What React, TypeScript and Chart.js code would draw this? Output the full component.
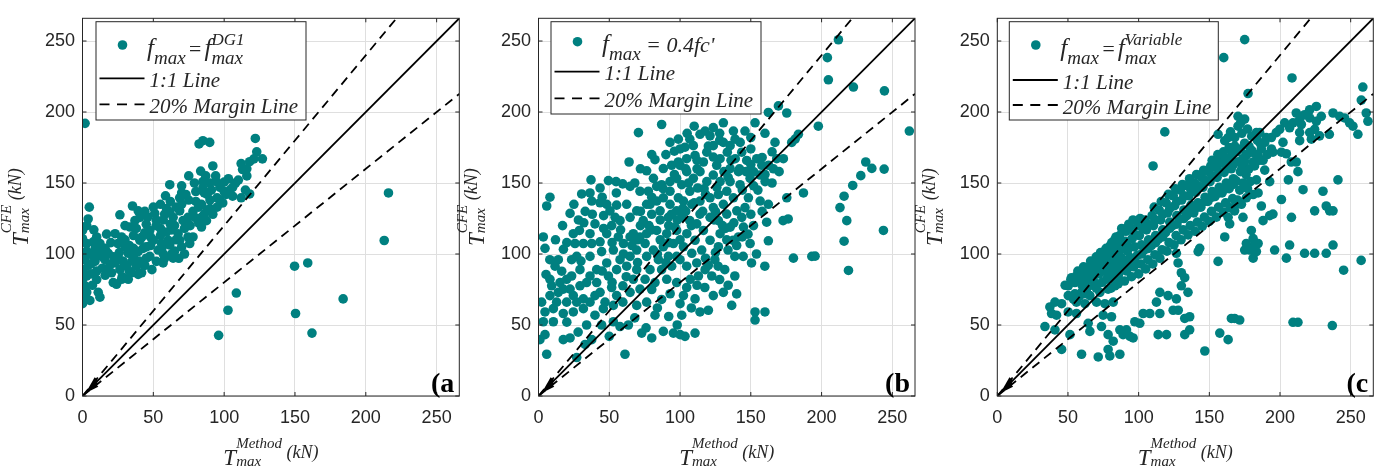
import React, { useEffect, useRef } from 'react';
import { Chart, registerables } from 'chart.js';

Chart.register(...registerables);

// ---------- data ----------
const AXIS_MAX = 266;
const tickValues = [0, 50, 100, 150, 200, 250];
const oneToOneSlope = 1;
const upperMarginSlope = 1.2;
const lowerMarginSlope = 0.8;
const legendLineLabel = '1:1 Line';
const legendMarginLabel = '20% Margin Line';

const panelAPoints: [number, number][] = [
  [1.8, 192], [82.3, 177.5], [85, 179.8], [89.8, 178.6], [122, 181.4], [121, 167], [127, 167], [112, 163.7], [113, 159.5],
  [92, 162], [83.4, 158.4], [85, 151], [85, 146.5], [86, 143], [75, 155], [94.5, 151], [100, 150.6], [96.8, 138.4],
  [101.5, 142], [106, 140.7], [112, 139.6], [118, 142.3], [61.6, 148.8], [58.6, 141], [70, 143], [73, 141.9], [68.6, 139.6],
  [4.8, 133], [4, 124.7], [26.4, 127.6], [35.3, 133.8], [39.3, 130.4], [40.5, 125.8], [51, 128.6], [59.3, 132], [61.6, 129.2],
  [64, 125.8], [68.6, 130.4], [71, 123.5], [74.5, 125.8], [79.2, 125.8], [84, 125.8], [87.5, 123.5], [92, 128], [45, 121],
  [47.5, 116.6], [37, 123.5], [33.5, 119], [23, 114.3], [27.6, 112], [25, 107.4], [0, 116.6], [59.3, 115.5], [60.4, 109.7],
  [61.6, 106.3], [67.5, 114.3], [68.6, 109.7], [74.5, 112], [75.7, 107.4], [50, 109.7], [53.4, 102.8], [55.8, 107.4],
  [40.5, 109.7], [42.8, 104], [39.3, 101.7], [0, 110.9], [2.9, 107.4], [7.6, 108.6], [12.3, 107.4], [14.7, 102.8], [18.2, 100.5],
  [15.8, 96], [30, 105], [32.3, 100.5], [28.8, 94.8], [31, 91.4], [35.8, 98.3], [38.1, 91.4], [41.7, 86.8], [47.5, 98.3],
  [52.2, 94.8], [56.9, 93.7], [64, 97.1], [1.8, 96], [0.6, 89], [2.9, 84.5], [1.8, 77.6], [0.5, 70.7], [2.9, 68.4], [5.2, 67.3],
  [0, 65], [11.1, 73], [12.3, 69.6], [20.5, 86.8], [21.7, 79.9], [24, 78.7], [27.6, 82.2], [32.3, 82.2], [34.6, 86.8],
  [39.3, 85.6], [23, 93.7], [26.4, 89], [13.5, 98.3], [8.8, 94.8], [149.7, 91.4], [159, 93.7], [108.6, 72.5], [102.7, 60.4],
  [96.1, 42.7], [150.4, 58.1], [162, 44.3], [184, 68.4], [216, 143], [213, 109.5],
  [78, 130], [82, 133], [88, 131], [95, 133], [99, 136], [90, 138], [80, 137], [76, 120], [84, 119], [72, 118], [65, 120],
  [63, 117], [55, 113], [48, 112], [44, 115], [36, 113], [30, 110], [20, 108], [9, 104], [5, 100], [4, 92], [6, 86], [10, 82],
  [16, 85], [18, 90], [22, 98], [26, 101], [35, 95], [44, 92], [49, 89], [33, 88], [28, 84], [45, 105], [57, 100], [65, 102],
  [70, 105], [52, 120], [57, 124], [46, 126], [30, 120], [17, 114], [10, 112], [8, 117], [3, 120], [0, 100], [0, 82], [0, 76],
  [3, 73], [7, 78], [104, 145], [108, 150], [97, 147], [91, 145], [103, 153], [115, 145], [87, 155], [79, 150], [70, 148],
  [62, 137], [55, 135], [50, 133], [66, 133], [44, 130],
  [38, 118], [42, 112], [55, 118], [62, 121], [66, 110], [72, 100], [78, 112], [82, 122], [86, 128], [90, 132], [95, 139.5],
  [100, 144], [106, 147], [110, 152], [116, 155], [70, 135], [75, 138], [58, 128], [52, 124], [48, 106], [36, 104], [26, 96],
  [20, 93], [14, 90], [10, 88], [6, 93], [3, 102], [8, 98], [12, 100], [16, 104], [45, 97], [40, 95], [33, 106], [56, 104],
  [63, 100], [68, 97], [58, 97], [84, 135], [88, 142], [80, 144], [94, 155], [90, 150], [118, 165], [123, 172], [116, 160],
];

const panelBPoints: [number, number][] = [
  [87, 191.2], [70.6, 185.5], [96, 172.4], [82.3, 166.4], [64, 164.8], [76.4, 158.6], [88.2, 160.2], [37.1, 152.2], [49.4, 151.7],
  [54.8, 151], [59.5, 149.4], [64.7, 147.6], [30.5, 142.3], [36.4, 143], [43.5, 146.5], [37.6, 137.3], [43.5, 136.1], [8.1, 140],
  [5.8, 133.8], [22.3, 128.6], [28.2, 124], [28.9, 116.6], [48.2, 135], [50.5, 130.4], [54.1, 125.8], [51.7, 120], [57.6, 123.5],
  [62.3, 135], [64.7, 125.8], [69.4, 130.4], [77.6, 144.2], [83.5, 147.6], [88.2, 139.6], [92.9, 144.2], [97.6, 153.3],
  [74, 123.5], [80, 128], [85.9, 130.4], [91.8, 125.8], [97.6, 130.4], [76.4, 114.3], [83.5, 116.6], [90.6, 114.3], [96.5, 118.9],
  [75.3, 107.4], [81.2, 102.8], [88.2, 105.1], [95.3, 107.4], [76.4, 98.3], [84.7, 96], [91.8, 98.3], [97.6, 98.3], [78.8, 89],
  [87, 89], [94.1, 91.4], [75.3, 82.2], [82.3, 79.9], [90.6, 82.2], [97.6, 79.9], [69.4, 89], [62.3, 91.4], [55.2, 89], [49.4, 84.5],
  [64.7, 98.3], [57.6, 96], [48.2, 93.7], [41.1, 89], [36.4, 84.5], [60, 107.4], [52.9, 102.8], [44.6, 101.7], [67, 114.3],
  [3.4, 112], [4.6, 104], [17.6, 103.3], [23.4, 96], [25.8, 107.4], [24.6, 114.3], [37.6, 107.4], [43.5, 108.6], [5.3, 85.6],
  [11.7, 91.4], [16.4, 87.9], [19.9, 82.2], [23.4, 84.5], [9.3, 77.6], [14, 73], [17.5, 75.3], [24.6, 70.7], [29.3, 77.6], [34, 79.9],
  [2.2, 66.1], [4.6, 59.2], [3.4, 52.3], [10.5, 52.3], [17.5, 58.1], [24.6, 59.2], [27, 66.1], [31.7, 68.4], [39.9, 70.7],
  [39.9, 56.9], [47, 66.1], [55.2, 70.7], [64.7, 73], [71.7, 75.3], [76.4, 66.1], [82.3, 56.9], [1, 39.7], [4.6, 43.2], [5.8, 29.4],
  [17.5, 39.7], [22.3, 40.9], [27, 27.1], [32.9, 36.3], [37.6, 39.7], [44.6, 50], [52.9, 52.3], [57.6, 48.9], [61.1, 29.4],
  [63.5, 50], [72.9, 44.3], [80, 40.9], [88.2, 45.5], [95.3, 44.3],
  [81.2, 153.3], [87, 148.8], [92.9, 151], [78.8, 135], [83.5, 137.3], [92.9, 135], [98.8, 139.6], [97.6, 116.6], [98.8, 164.8],
  [94.1, 162.5], [98.8, 180.9], [92.9, 178.6],
  [8.1, 70.7], [19.9, 66.1], [12.8, 66.1], [36.4, 66.1], [43.5, 73], [51.7, 76.4], [59.6, 77.6], [67, 82.2], [45.8, 61.5],
  [52.9, 63.8], [59.6, 66.1], [69.4, 63.8], [31.7, 61.5], [10.5, 61.5], [29.3, 89], [27, 98.3], [36.4, 98.3], [41.1, 79.9],
  [22.3, 75.3], [15.2, 79.9], [8.1, 82.2],
  [39.9, 121.2], [48.2, 114.3], [56.4, 112], [64.7, 112], [71.7, 112], [69.4, 102.8], [36.4, 114.3], [31.7, 107.4], [55.2, 134.4],
  [71.7, 144.2], [76.4, 135],
  [169.5, 204.3], [175.4, 199.3], [162.4, 199.7], [183.6, 184.3], [181.3, 180.9], [178.9, 178.6], [167.1, 178.6], [153, 192.4],
  [145.9, 186.6], [137.7, 186.6], [130.6, 192.4], [123.5, 189], [117.7, 186.6], [138.9, 180.9], [142.5, 178.6], [130.6, 178.6],
  [123.5, 176.3], [118.9, 171.7], [123.5, 168.3], [125.9, 162.5], [116.5, 164.8], [109.4, 176.3], [103.5, 175.2], [168.3, 167.1],
  [173, 167.1], [154.2, 167.1], [157.8, 162.5], [162.5, 162.5], [152.1, 157.9], [156.6, 155.6], [160.1, 151], [149.5, 153.3],
  [142.4, 148.8], [135.4, 151], [175.4, 139.6], [187.2, 143], [162.4, 135], [156.6, 137.3], [161.2, 122.4], [151.9, 120],
  [149.5, 107.4], [144.8, 118.9], [141.3, 112], [162.4, 109.3], [172.8, 123.5], [176.4, 124.7], [180.1, 97.1], [193.1, 98.3],
  [159.9, 91.4], [150.5, 93.7], [144.6, 98.3], [138.7, 98.3], [138.7, 84.5], [131.6, 89], [126.9, 91.4], [124.6, 96], [133.9, 102.8],
  [137.5, 109.7], [128.3, 114.3], [121.2, 109.7], [116.5, 116.6], [111.8, 121.2], [117.5, 76.4], [123.5, 70.7], [130.6, 73],
  [140, 71.9], [110.6, 68.4], [104.7, 76.4], [102.4, 70.7], [136.5, 63.8], [120, 60.4], [114.1, 59.2], [101.2, 56.9], [153, 59.2],
  [153, 53.5], [160, 59.2], [103.5, 42], [110.6, 44.3], [100, 43.2],
  [100, 162.5], [104.7, 158], [109.4, 153.3], [114.1, 158], [101.2, 148.8], [106.9, 144.2], [112.5, 146.5], [118.9, 151],
  [123.5, 155.6], [128.3, 151], [102.4, 137.3], [108.3, 135], [114.1, 137.3], [121.2, 139.6], [127.1, 141.9], [133, 144.2],
  [137.7, 139.6], [130.6, 135], [123.5, 132.7], [101.2, 125.8], [106.9, 123.5], [114.1, 128.1], [121.2, 125.8], [127.1, 123.5],
  [133, 128.1], [140.1, 130.4], [145.9, 132.7], [148.3, 139.6], [143.6, 125.8], [135.4, 118.9], [104.8, 114.3], [110.6, 109.7],
  [102.4, 105.1], [108.3, 100.5], [115.3, 102.8], [127.1, 105.1], [100, 96], [104.7, 91.4], [111.8, 93.7], [117.7, 89],
  [122.4, 84.5], [113, 84.5], [107.2, 82.2], [128.3, 167.1], [133.4, 171.7], [110.6, 169.4], [104.7, 167.1], [100, 174],
  [114.1, 184.3], [106.9, 180.9], [121.2, 183.2], [135.4, 176.3], [143.6, 171.7], [150, 174], [147.1, 165.9], [139, 167.1],
  [135.4, 160.2], [141.3, 158], [146.6, 158],
  [45, 140], [55, 143], [68, 150], [72, 160], [80, 170], [90, 170], [105, 185], [110, 190], [58, 117], [46, 127], [33, 130],
  [25, 135], [17, 120], [12, 110], [8, 96], [30, 95], [45, 88], [52, 80], [62, 84], [70, 94], [80, 75], [87, 68], [93, 72],
  [100, 65], [108, 62], [112, 78], [118, 97], [125, 101], [130, 120], [133, 110], [138, 122], [144, 112], [150, 128], [155, 145],
  [158, 130], [165, 150], [170, 158], [165, 172], [160, 185], [150, 182], [128, 185], [112, 160], [117, 146], [125, 130],
  [131, 158], [104, 130], [98, 124], [92, 120], [86, 110], [80, 117], [72, 120], [66, 106], [60, 100], [52, 108], [46, 118],
  [38, 128], [32, 122], [20, 108], [14, 96], [34, 50], [28, 45], [20, 52], [50, 42], [68, 55], [76, 48], [84, 62], [92, 56], [98, 50],
  [70, 110], [78, 120], [86, 124], [94, 128], [102, 132], [110, 136], [118, 142], [126, 147], [134, 154], [142, 160], [150, 163],
  [158, 168], [72, 130], [80, 140], [88, 146], [96, 156], [104, 160], [112, 166], [120, 176], [128, 180], [136, 166], [144, 145],
  [152, 148], [160, 156], [166, 160], [106, 150], [116, 130], [124, 124], [132, 118], [140, 106], [148, 114], [154, 100],
  [108, 120], [100, 110], [92, 108], [84, 100], [120, 92], [128, 82], [134, 78], [90, 94],
  [211.9, 250.9], [204.1, 238.3], [204.8, 222.7], [222.5, 217.6], [244.4, 214.9], [197.7, 190], [262, 186.6], [231.2, 164.8],
  [235.5, 160.3], [227.7, 155.2], [244.2, 159.8], [222, 148.3], [215.9, 140.7], [213, 132.7], [217.8, 123.5], [243.7, 116.6],
  [215.9, 109], [219, 88.4], [195.4, 98.5],
];

const panelCPoints: [number, number][] = [
  [33.7, 48.9], [40.8, 46.6], [38.4, 58.1], [41.9, 56.9], [51.4, 43.2], [45.5, 32.8], [59.6, 29.4], [71.4, 27.5], [79.6, 28.2],
  [86.7, 29.4], [64.3, 51.2], [65.5, 45.5], [73.7, 48.9], [78.4, 43.2], [82, 38.6], [78.4, 32.8], [37.2, 62.7], [40.8, 66.1],
  [45.5, 65], [50.2, 70.7], [54.9, 71.9], [59.6, 73], [63.1, 75.3], [50.2, 77.6], [54.9, 79.9], [52.5, 83.3], [58.4, 85.6],
  [63.1, 86.8], [67.8, 82.2], [70.2, 78.7], [65.5, 70.7], [56, 66.1], [62, 65], [70.2, 66.1], [76.1, 65], [82, 66.1], [72.6, 73],
  [78.4, 75.3], [83.2, 77.6], [50.2, 59.2], [56, 58.1], [74.9, 56.9], [80.8, 55.8], [85.5, 107.4], [79.6, 104], [74.9, 98.3],
  [71.4, 93.7], [76.1, 89], [82, 91.4], [86.7, 96], [85.5, 84.5], [79.6, 85.6], [65.5, 91.4], [60.8, 89], [56, 84.5], [77.3, 82.2],
  [60, 78], [64, 82], [68, 88], [72, 86], [70, 92], [74, 90], [78, 95], [76, 102], [80, 106], [84, 103], [84, 112], [88, 118],
  [93, 121], [96, 124],
  [48, 78], [52, 82], [57, 88], [61, 91], [66, 95], [70, 98], [73, 101], [77, 104], [81, 108], [60, 82], [64, 88], [68, 85],
  [72, 90], [75, 95], [79, 98], [83, 100], [87, 103], [62, 72], [66, 78], [70, 76], [74, 80], [78, 86], [82, 88], [86, 90],
  [88, 97], [58, 70], [54, 68],
  [160.2, 238.3], [118.5, 186], [110.2, 162], [156.2, 184.3], [160.9, 179.8], [163.3, 182], [170.3, 197], [170.3, 190],
  [165.6, 54.6], [167.9, 54.6], [157.4, 44.3], [163.3, 39.7], [146.8, 31.7],
  [126.7, 100.5], [127.9, 93.7], [130.2, 86.8], [132.6, 83.3], [130.2, 77.6], [134.9, 73], [126.7, 68.4], [120.8, 70.7], [115, 73],
  [112.6, 66.1], [124.4, 60.4], [128, 60.4], [115, 58.1], [107.9, 58.1], [103.2, 58.1], [97.3, 52.3], [100.8, 51.2], [91.4, 46.6],
  [89, 43.2], [86.7, 46.6], [93.8, 42], [96.1, 40.9], [113.8, 43.2], [119.7, 43.2], [132.6, 43.2], [132.6, 54.6], [136.1, 55.8],
  [136.1, 46.6], [142.1, 101.7], [143.2, 104], [156.2, 94.8], [160.9, 112], [163.3, 125.8], [164.4, 121.2], [167.9, 130.4], [169.1, 135],
  [80.5, 76], [81, 83], [79, 89.5], [82.5, 96], [80, 101], [83, 110],
  [85.5, 79], [86, 86.5], [87.5, 93], [84.5, 100], [88, 106], [86.5, 113],
  [90, 81], [91.5, 88], [89.5, 95], [92, 102], [90.5, 109], [91, 116],
  [95, 84], [96.5, 91], [94, 97.5], [97, 105], [95.5, 111], [94.5, 118],
  [100, 86], [101.5, 93], [99, 99], [102, 106.5], [100.5, 113], [99.5, 120], [101, 125],
  [105, 89.5], [106.5, 96], [104, 103], [107, 110], [105.5, 117], [104.5, 124],
  [110, 93], [111.5, 99.5], [109, 106], [112, 113], [110.5, 120], [109.5, 127], [111, 133],
  [115, 97], [116.5, 103], [114, 110.5], [117, 117], [115.5, 124], [114.5, 131], [116, 137],
  [120, 102], [121.5, 108], [119, 115], [122, 122.5], [120.5, 129], [119.5, 136], [121, 142],
  [125, 106.5], [126.5, 113], [124, 120], [127, 127], [125.5, 134], [124.5, 141], [126, 146],
  [130, 110], [131.5, 117], [129, 124.5], [132, 131], [130.5, 138], [129.5, 145], [131, 149],
  [135, 113.5], [136.5, 120], [134, 127], [137, 134.5], [135.5, 141], [134.5, 148], [136, 153],
  [140, 116], [141.5, 122.5], [139, 129], [142, 136], [140.5, 143.5], [139.5, 150], [141, 156],
  [145, 119.5], [146.5, 126], [144, 133], [147, 140], [145.5, 147], [144.5, 154], [146, 159],
  [150, 123], [151.5, 130], [149, 137], [152, 144], [150.5, 151], [149.5, 158], [151, 162],
  [155, 126], [156.5, 133], [154, 140.5], [157, 147], [155.5, 154], [154.5, 161], [156, 165],
  [160, 129.5], [161.5, 136], [159, 143], [162, 150], [160.5, 157.5], [159.5, 164], [161, 168],
  [165, 132.5], [166.5, 139], [164, 146], [167, 153], [165.5, 160], [164.5, 167], [166, 170],
  [170, 138], [171.5, 145], [169, 151.5], [172, 158], [170.5, 165], [169.5, 172],
  [82, 88], [87, 97], [92, 106], [97, 114], [103, 118], [107, 121], [112, 124], [117, 128], [122, 132], [127, 137], [132, 141],
  [137, 145], [142, 148], [147, 152], [152, 155], [157, 158], [162, 162], [167, 163], [92, 92], [97, 95], [102, 100], [107, 104],
  [112, 108], [117, 112], [122, 118], [127, 121], [132, 125], [137, 130], [142, 133], [147, 137], [152, 140], [157, 143],
  [162, 146], [167, 149],
  [152, 166], [156, 170], [160, 172], [164, 175], [168, 176], [172, 174], [175, 178], [178, 176], [176, 170], [180, 173],
  [183, 170], [186, 178], [175, 165], [178, 160], [182, 162], [188, 166], [191, 170], [173, 185], [177, 188], [180, 183],
  [184, 180], [168, 182], [165, 186], [172, 192], [175, 195], [173, 160], [176, 156], [179, 151], [174, 150], [177, 146],
  [225.7, 203.9], [221, 201.6], [229.2, 197], [225.7, 193.5], [221, 195.8], [217.4, 198.1], [211.5, 199.3], [213.9, 194.7],
  [209.2, 192.4], [206.8, 188.9], [203.3, 192.4], [199.8, 187.8], [197.4, 185.5], [193.9, 182], [190.3, 182], [189.2, 178.6],
  [185.6, 185.5], [183.3, 185.5], [234.9, 184.3], [228, 183.2], [222.2, 180.9], [224.5, 187.8], [221, 185.5], [215.1, 191.2],
  [213.9, 185.5], [213.9, 179.8], [202.1, 178.6], [201, 171.7], [204.5, 170.6], [195, 171.7], [193.9, 174], [186.8, 174],
  [184.5, 169.4], [185.6, 166], [179.7, 171.7], [176.2, 169.4], [173.8, 167.1], [181, 164.8],
  [258.6, 217.6], [257.5, 208.4], [261, 199.3], [262.2, 193.5], [255.1, 184.3], [249.2, 192.4], [251.6, 190], [237.5, 199.3],
  [242.2, 197], [245.7, 195.8], [175, 251], [177.4, 213], [208.5, 224],
  [209.2, 51.9], [212.7, 51.9], [237, 49.6], [257.4, 95.5], [245, 88.6], [196.2, 102.8], [206.8, 106.3], [204.5, 97.1],
  [217.4, 100.5], [224.5, 100.5], [232.7, 100.5], [237.5, 106.3], [224.5, 130.4], [232.7, 133.8], [235.1, 130.4], [237.5, 130.4],
  [216.3, 145.3], [230.4, 144.2], [241, 152.2], [201, 138.4], [208.1, 125.8], [205.9, 152.2], [192.7, 151], [183.3, 152.2],
  [189.2, 159.1], [211.5, 164.8], [208, 164.8], [212.7, 158], [186.8, 133.8], [195, 128.1], [192.7, 127], [188, 123.5],
  [181, 141.9], [184.5, 143], [176.2, 139.6], [172.7, 135], [173.8, 125.8], [179.7, 116.6], [181, 110.9], [182.1, 106.3],
  [184.5, 107.4], [178.5, 102.8], [183.3, 101.7], [176.2, 107.4], [175, 102.8], [181, 97.1], [171.5, 53.5],
];

// ---------- styling helpers ----------
const TEAL = '#008080';
const INK = '#262626';
const GRID = '#dfdfdf';
const SANS = '"Liberation Sans", Arial, Helvetica, sans-serif';
const SERIF = '"Liberation Serif", "Times New Roman", Times, serif';
const W = 1382;
const H = 468;
const Y_AXIS_W = 45;
const X_AXIS_H = 40;
const POINT_R = 4.8;

type Seg = {
  t: string; size: number; dy?: number; padL?: number; padR?: number; bold?: boolean; italic?: boolean;
  sub?: string; sup?: string; subSize?: number; supSize?: number; subDy?: number; supDy?: number;
};

function serifFont(size: number, italic = true, bold = false) {
  return `${italic ? 'italic ' : ''}${bold ? 'bold ' : ''}${size}px ${SERIF}`;
}

function rich(ctx: CanvasRenderingContext2D, segs: Seg[], x: number, y: number, draw: boolean) {
  let cx = x;
  for (const s of segs) {
    cx += s.padL || 0;
    ctx.font = serifFont(s.size, s.italic !== false, !!s.bold);
    if (draw) ctx.fillText(s.t, cx, y + (s.dy || 0));
    cx += ctx.measureText(s.t).width;
    let w = 0;
    if (s.sub) {
      ctx.font = serifFont(s.subSize || s.size * 0.7);
      if (draw) ctx.fillText(s.sub, cx, y + (s.subDy || 0));
      w = Math.max(w, ctx.measureText(s.sub).width);
    }
    if (s.sup) {
      ctx.font = serifFont(s.supSize || s.size * 0.7);
      if (draw) ctx.fillText(s.sup, cx, y + (s.supDy || 0));
      w = Math.max(w, ctx.measureText(s.sup).width);
    }
    cx += w + (s.padR || 0);
  }
  return cx - x;
}

const xTitle: Seg[] = [
  { t: 'T', size: 23, sub: 'max', sup: 'Method', subSize: 15, supSize: 15, subDy: 1, supDy: -17 },
  { t: ' (kN)', size: 18, dy: -7 },
];
const yTitle: Seg[] = [
  { t: 'T', size: 23, sub: 'max', sup: 'CFE', subSize: 15, supSize: 15, subDy: 1, supDy: -17 },
  { t: ' (kN)', size: 18, dy: -7 },
];

const legendTitleA: Seg[] = [
  { t: 'f', size: 25, sub: 'max', subSize: 19, subDy: 8 },
  { t: '=', size: 22, padL: 2, padR: 2 },
  { t: 'f', size: 25, sub: 'max', sup: 'DG1', subSize: 19, supSize: 17, subDy: 8, supDy: -11 },
];
const legendTitleB: Seg[] = [
  { t: 'f', size: 25, sub: 'max', subSize: 19, subDy: 8 },
  { t: ' = 0.4fc\'', size: 22 },
];
const legendTitleC: Seg[] = [
  { t: 'f', size: 25, sub: 'max', subSize: 19, subDy: 8 },
  { t: '=', size: 22, padL: 2, padR: 2 },
  { t: 'f', size: 25, sub: 'max', sup: 'Variable', subSize: 19, supSize: 17, subDy: 8, supDy: -11 },
];

type PanelCfg = {
  points: [number, number][];
  plot: { left: number; right: number; top: number; bottom: number };
  legend: { x: number; y: number; w: number; h: number; markerDy: number; titleDy: number; lineDy: number; dashDy: number };
  title: Seg[];
  tag: string;
};

const panels: PanelCfg[] = [
  {
    points: panelAPoints,
    plot: { left: 82.5, right: 459.3, top: 9.3, bottom: 396 },
    legend: { x: 96, y: 21.7, w: 210, h: 98.3, markerDy: 23.3, titleDy: 33.3, lineDy: 56.6, dashDy: 82.6 },
    title: legendTitleA,
    tag: '(a',
  },
  {
    points: panelBPoints,
    plot: { left: 538.5, right: 915, top: 9.3, bottom: 396 },
    legend: { x: 551, y: 21.7, w: 210, h: 92.3, markerDy: 20, titleDy: 30, lineDy: 50, dashDy: 76.6 },
    title: legendTitleB,
    tag: '(b',
  },
  {
    points: panelCPoints,
    plot: { left: 997.3, right: 1373.3, top: 9.3, bottom: 396 },
    legend: { x: 1009.3, y: 21.7, w: 209, h: 98.3, markerDy: 23.3, titleDy: 33.3, lineDy: 58.3, dashDy: 83.3 },
    title: legendTitleC,
    tag: '(c',
  },
];

function makeDecor(cfg: PanelCfg) {
  return {
    id: 'decor',
    afterDatasetsDraw(chart: any) {
      const { ctx, scales } = chart;
      const xs = scales.x;
      const ys = scales.y;
      ctx.save();
      ctx.fillStyle = '#000';
      for (const s of [upperMarginSlope, oneToOneSlope, lowerMarginSlope]) {
        const tx = xs.getPixelForValue(3), ty = ys.getPixelForValue(3 * s);
        const bx = xs.getPixelForValue(10), by = ys.getPixelForValue(10 * s);
        const ang = Math.atan2(by - ty, bx - tx);
        const nx = -Math.sin(ang) * 2.6, ny = Math.cos(ang) * 2.6;
        ctx.beginPath();
        ctx.moveTo(tx, ty);
        ctx.lineTo(bx + nx, by + ny);
        ctx.lineTo(bx - nx, by - ny);
        ctx.closePath();
        ctx.fill();
      }
      ctx.restore();
    },
    afterDraw(chart: any) {
      const { ctx, chartArea: a, scales } = chart;
      const xs = scales.x;
      const ys = scales.y;
      ctx.save();
      ctx.strokeStyle = INK;
      ctx.lineWidth = 1;
      ctx.strokeRect(a.left, a.top, a.right - a.left, a.bottom - a.top);
      ctx.beginPath();
      for (const v of tickValues) {
        const px = xs.getPixelForValue(v);
        const py = ys.getPixelForValue(v);
        ctx.moveTo(px, a.bottom); ctx.lineTo(px, a.bottom - 4);
        ctx.moveTo(px, a.top); ctx.lineTo(px, a.top + 4);
        ctx.moveTo(a.left, py); ctx.lineTo(a.left + 4, py);
        ctx.moveTo(a.right, py); ctx.lineTo(a.right - 4, py);
      }
      ctx.stroke();

      // legend
      const L = cfg.legend;
      ctx.fillStyle = '#fff';
      ctx.fillRect(L.x, L.y, L.w, L.h);
      ctx.strokeStyle = INK;
      ctx.lineWidth = 1;
      ctx.strokeRect(L.x, L.y, L.w, L.h);
      ctx.fillStyle = TEAL;
      ctx.beginPath();
      ctx.arc(L.x + 26.5, L.y + L.markerDy, POINT_R, 0, Math.PI * 2);
      ctx.fill();
      ctx.strokeStyle = '#000';
      ctx.lineWidth = 1.8;
      ctx.beginPath();
      ctx.moveTo(L.x + 3.5, L.y + L.lineDy);
      ctx.lineTo(L.x + 48.5, L.y + L.lineDy);
      ctx.stroke();
      ctx.setLineDash([10, 7.5]);
      ctx.beginPath();
      ctx.moveTo(L.x + 3.5, L.y + L.dashDy);
      ctx.lineTo(L.x + 48.5, L.y + L.dashDy);
      ctx.stroke();
      ctx.setLineDash([]);
      ctx.fillStyle = INK;
      ctx.textAlign = 'left';
      ctx.textBaseline = 'alphabetic';
      rich(ctx, cfg.title, L.x + 51, L.y + L.titleDy + 0.5, true);
      ctx.font = serifFont(21);
      ctx.fillText(legendLineLabel, L.x + 53.5, L.y + L.lineDy + 8.5);
      ctx.fillText(legendMarginLabel, L.x + 53.5, L.y + L.dashDy + 8.8);

      // panel tag
      ctx.font = `bold 28px ${SERIF}`;
      ctx.textAlign = 'right';
      ctx.fillStyle = '#000';
      ctx.fillText(cfg.tag, a.right - 5, a.bottom - 4);
      ctx.textAlign = 'left';

      // axis titles
      ctx.fillStyle = INK;
      const xw = rich(ctx, xTitle, 0, 0, false);
      rich(ctx, xTitle, (a.left + a.right) / 2 - xw / 2, a.bottom + 69, true);
      const yw = rich(ctx, yTitle, 0, 0, false);
      ctx.translate(a.left - 55, (a.top + a.bottom) / 2);
      ctx.rotate(-Math.PI / 2);
      rich(ctx, yTitle, -yw / 2, 0, true);
      ctx.restore();
    },
  };
}

function axisOptions(isX: boolean) {
  return {
    type: 'linear' as const,
    min: 0,
    max: AXIS_MAX,
    afterFit: (scale: any) => {
      if (isX) scale.height = X_AXIS_H; else scale.width = Y_AXIS_W;
    },
    afterBuildTicks: (scale: any) => {
      scale.ticks = tickValues.map((v) => ({ value: v }));
    },
    ticks: {
      autoSkip: false,
      maxRotation: 0,
      includeBounds: false,
      padding: isX ? 11 : 7.5,
      color: INK,
      font: { family: SANS, size: 18 },
    },
    grid: { color: GRID, lineWidth: 1, drawTicks: false },
    border: { display: false },
  };
}

function Panel({ cfg }: { cfg: PanelCfg }) {
  const ref = useRef<HTMLCanvasElement>(null);
  useEffect(() => {
    const p = cfg.plot;
    const lineDs = (slope: number, dash: number[]) => ({
      data: [{ x: 0, y: 0 }, slope >= 1 ? { x: AXIS_MAX / slope, y: AXIS_MAX } : { x: AXIS_MAX, y: AXIS_MAX * slope }],
      showLine: true,
      borderColor: '#000',
      borderWidth: 1.8,
      borderDash: dash,
      pointRadius: 0,
      order: 1,
    });
    const chart = new Chart(ref.current as HTMLCanvasElement, {
      type: 'scatter',
      data: {
        datasets: [
          lineDs(upperMarginSlope, [9, 6]),
          lineDs(oneToOneSlope, []),
          lineDs(lowerMarginSlope, [9, 6]),
          {
            data: cfg.points.map(([x, y]) => ({ x, y })),
            backgroundColor: TEAL,
            borderWidth: 0,
            pointRadius: POINT_R,
            order: 2,
          } as any,
        ],
      },
      options: {
        responsive: false,
        animation: false,
        events: [],
        layout: {
          padding: {
            left: p.left - Y_AXIS_W,
            right: W - p.right,
            top: p.top,
            bottom: H - p.bottom - X_AXIS_H,
          },
        },
        plugins: { legend: { display: false }, tooltip: { enabled: false } },
        scales: { x: axisOptions(true) as any, y: axisOptions(false) as any },
      },
      plugins: [makeDecor(cfg)],
    });
    return () => chart.destroy();
  }, [cfg]);
  return (
    <canvas
      ref={ref}
      width={W}
      height={H}
      style={{ position: 'absolute', left: 0, top: 0, width: W, height: H }}
    />
  );
}

export default function App() {
  useEffect(() => {
    document.body.style.margin = '0';
  }, []);
  return (
    <div style={{ position: 'fixed', left: 0, top: 0, width: W, height: H, background: '#fff' }}>
      {panels.map((cfg, i) => (
        <Panel key={i} cfg={cfg} />
      ))}
    </div>
  );
}
